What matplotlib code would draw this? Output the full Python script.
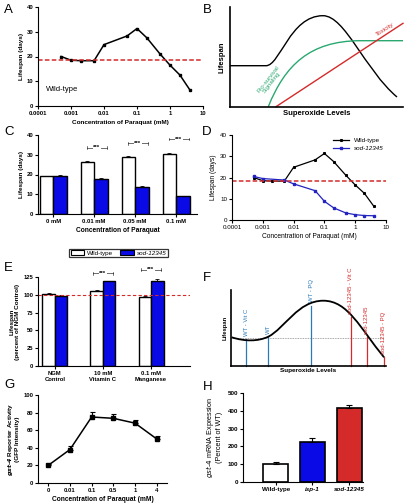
import matplotlib
matplotlib.use("Agg")
import matplotlib.pyplot as plt
from matplotlib.path import Path
from matplotlib.patches import PathPatch, Patch

plt.rcParams["font.family"] = ["Liberation Sans", "DejaVu Sans"]

W, H = 405, 503

BLUE = "#0a0ae6"
DBLUE = "#2323c0"
RED = "#d42a2a"
GREEN = "#2aa870"
FBLUE = "#2a7ab8"

# ---- data ----
pq_conc = [0.0005, 0.001, 0.002, 0.005, 0.01, 0.05, 0.1, 0.2, 0.5, 1, 2, 4]
wt_life = [20.0, 18.5, 18.3, 18.3, 24.8, 28.3, 31.3, 27.5, 21.0, 16.5, 12.5, 6.5]
sod_conc = [0.0005, 0.001, 0.005, 0.01, 0.05, 0.1, 0.2, 0.5, 1, 2, 4]
sod_life = [20.5, 19.5, 18.8, 17.0, 13.8, 8.8, 5.7, 3.3, 2.5, 2.1, 2.0]
wt_control = 18.5

c_groups = ["0 mM", "0.01 mM", "0.05 mM", "0.1 mM"]
c_wt = [19.0, 26.2, 28.8, 30.6]
c_wt_err = [0.4, 0.5, 0.6, 0.5]
c_sod = [19.2, 17.8, 13.6, 8.9]
c_sod_err = [0.4, 0.4, 0.4, 0.4]
c_sig_y = [None, 33.5, 35.8, 38.0]

e_groups = ["NGM\nControl", "10 mM\nVitamin C", "0.1 mM\nManganese"]
e_wt = [101, 106, 97]
e_wt_err = [1.0, 1.2, 1.5]
e_sod = [99, 119, 119]
e_sod_err = [1.0, 1.0, 2.5]
e_sig_y = [None, 130, 135]

g_conc = ["0", "0.01", "0.1", "0.5", "1", "4"]
g_gfp = [20, 38, 75, 73.5, 68, 50]
g_err = [1.8, 4.0, 6.0, 5.0, 3.5, 3.5]

h_strains = ["Wild-type", "isp-1", "sod-12345"]
h_expr = [100, 225, 415]
h_err = [12, 20, 18]
h_colors = ["white", BLUE, RED]

# schematic F: vertical markers (x, top of line on curve, label, colour)
f_marks_x = [246, 268.3, 311, 350.7, 366.7, 384]
f_marks_top = [339.3, 336.7, 305.5, 316.5, 337.3, 357.3]
f_marks_lab = ["WT - Vit C", "WT", "WT - PQ", "sod-12345 - Vit C", "sod-12345", "sod-12345 - PQ"]
f_marks_col = [FBLUE, FBLUE, FBLUE, RED, RED, RED]


def rect(l, t, r, b):
    return [l / W, 1 - b / H, (r - l) / W, (b - t) / H]


def style(ax, lw=0.8, fs=4.2, bold=True):
    for s in ["top", "right"]:
        ax.spines[s].set_visible(False)
    for s in ["left", "bottom"]:
        ax.spines[s].set_linewidth(lw)
    ax.tick_params(length=2, width=lw, labelsize=fs, pad=1.5)
    if bold:
        for t in ax.get_xticklabels() + ax.get_yticklabels():
            t.set_fontweight("bold")


def log_xaxis(ax):
    ax.set_xscale("log")
    ax.set_xlim(1e-4, 10)
    ax.set_xticks([1e-4, 1e-3, 1e-2, 0.1, 1, 10])
    ax.set_xticklabels(["0.0001", "0.001", "0.01", "0.1", "1", "10"])
    ax.minorticks_off()


def sig(ax, x, y, half, tick, fs=4.3):
    kw = dict(color="black", lw=0.4, clip_on=False)
    ax.plot([x - half, x + half], [y, y], **kw)
    ax.plot([x - half, x - half], [y - tick, y + tick], **kw)
    ax.plot([x + half, x + half], [y - tick, y + tick], **kw)
    ax.text(x, y, "***", ha="center", va="center", fontsize=fs, fontweight="bold",
            bbox=dict(facecolor="white", edgecolor="none", pad=0.4), clip_on=False)


def bezier(points, codes_seq):
    return Path(points, [Path.MOVETO] + codes_seq)


fig = plt.figure(figsize=(W / 100, H / 100), dpi=100)

# ---------- A ----------
ax = fig.add_axes(rect(38, 7, 203, 106))
ax.plot(pq_conc, wt_life, color="black", lw=1.1, marker="s", ms=2.0)
ax.axhline(wt_control, color=RED, ls=(0, (3, 1.5)), lw=1.1)
log_xaxis(ax)
ax.set_ylim(0, 40)
ax.set_yticks([0, 10, 20, 30, 40])
ax.set_xlabel("Concentration of Paraquat (mM)", fontsize=4.6, fontweight="bold", labelpad=3)
ax.set_ylabel("Lifespan (days)", fontsize=4.6, fontweight="bold", labelpad=2)
ax.text(0.00018, 6.5, "Wild-type", fontsize=5.5, va="center")
style(ax)

# ---------- B ----------
ax = fig.add_axes(rect(230, 7, 403, 107))
ax.set_xlim(230, 403)
ax.set_ylim(107, 7)
blk = bezier([(230, 65.7), (266, 65.7), (280, 65.7), (290, 15.7), (323, 15.7),
              (345, 15.7), (365, 70), (397, 97)],
             [Path.LINETO] + [Path.CURVE4] * 6)
ax.add_patch(PathPatch(blk, fill=False, edgecolor="black", lw=1.0))
grn = bezier([(268.3, 106.7), (285, 65), (310, 41), (360, 40.7), (403, 40.7)],
             [Path.CURVE4] * 3 + [Path.LINETO])
ax.add_patch(PathPatch(grn, fill=False, edgecolor=GREEN, lw=1.0, clip_on=False))
ax.plot([276, 403], [106.7, 23.3], color=RED, lw=1.0, clip_on=False)
ax.text(385, 29, "Toxicity", color=RED, fontsize=4.5, rotation=33, ha="center", va="center")
ax.text(270, 81, "Pro-survival\nSignaling", color=GREEN, fontsize=4.5, rotation=52,
        ha="center", va="center", linespacing=1.0)
ax.set_xticks([])
ax.set_yticks([])
ax.set_xlabel("Superoxide Levels", fontsize=5.5, fontweight="bold", labelpad=2)
ax.set_ylabel("Lifespan", fontsize=5.5, fontweight="bold", labelpad=3)
for s in ["top", "right"]:
    ax.spines[s].set_visible(False)
for s in ["left", "bottom"]:
    ax.spines[s].set_linewidth(1.2)

# ---------- C ----------
ax = fig.add_axes(rect(38, 135, 197, 214))
bw = 0.33
xs = list(range(len(c_groups)))
ax.bar([x - bw / 2 for x in xs], c_wt, bw, color="white", edgecolor="black", lw=1.0,
       yerr=[[0] * 4, c_wt_err], error_kw=dict(lw=0.6, capsize=1.3, capthick=0.6))
ax.bar([x + bw / 2 for x in xs], c_sod, bw, color=BLUE, edgecolor="black", lw=1.0,
       yerr=[[0] * 4, c_sod_err], error_kw=dict(lw=0.6, capsize=1.3, capthick=0.6))
for x, y in zip(xs, c_sig_y):
    if y is not None:
        sig(ax, x + 0.07, y, 0.24, 0.7)
ax.set_xlim(-0.37, 3.51)
ax.set_ylim(0, 40)
ax.set_yticks([0, 10, 20, 30, 40])
ax.set_xticks(xs)
ax.set_xticklabels(c_groups)
ax.set_xlabel("Concentration of Paraquat", fontsize=4.8, fontweight="bold", labelpad=2)
ax.set_ylabel("Lifespan (days)", fontsize=4.6, fontweight="bold", labelpad=2)
style(ax)
leg = fig.legend([Patch(facecolor="white", edgecolor="black", lw=0.8),
                  Patch(facecolor=BLUE, edgecolor="black", lw=0.8)],
                 ["Wild-type", "sod-12345"], ncol=2, loc="center",
                 bbox_to_anchor=(118.5 / W, 1 - 253 / H), fontsize=4.5, frameon=True,
                 fancybox=False, edgecolor="black", handlelength=2.2, handleheight=0.9,
                 borderpad=0.2, columnspacing=1.0, handletextpad=0.5, borderaxespad=0)
leg.get_frame().set_linewidth(0.9)
leg.get_texts()[1].set_fontstyle("italic")

# ---------- D ----------
ax = fig.add_axes(rect(232, 135, 386, 220))
ax.plot(pq_conc, wt_life, color="black", lw=0.9, marker="s", ms=1.2, label="Wild-type")
ax.plot(sod_conc, sod_life, color=DBLUE, lw=0.9, marker="s", ms=2.0, label="sod-12345")
ax.axhline(wt_control, color=RED, ls=(0, (3, 1.5)), lw=1.1)
log_xaxis(ax)
ax.set_ylim(0, 40)
ax.set_yticks([0, 10, 20, 30, 40])
ax.set_xlabel("Concentration of Paraquat (mM)", fontsize=4.8, labelpad=2)
ax.set_ylabel("Lifespan (days)", fontsize=4.8, labelpad=2)
style(ax, fs=4.5, bold=False)
lg = ax.legend(loc="upper right", bbox_to_anchor=(1.02, 1.03), fontsize=4.5, frameon=False,
               handlelength=2.5, labelspacing=0.4)
lg.get_texts()[1].set_fontstyle("italic")

# ---------- E ----------
ax = fig.add_axes(rect(38, 277, 190, 366))
bw = 0.26
xs = list(range(len(e_groups)))
ax.bar([x - bw / 2 for x in xs], e_wt, bw, color="white", edgecolor="black", lw=1.0,
       yerr=[[0] * 3, e_wt_err], error_kw=dict(lw=0.6, capsize=1.3, capthick=0.6))
ax.bar([x + bw / 2 for x in xs], e_sod, bw, color=BLUE, edgecolor="black", lw=1.0,
       yerr=[[0] * 3, e_sod_err], error_kw=dict(lw=0.6, capsize=1.3, capthick=0.6))
ax.axhline(100, color=RED, ls=(0, (3, 2)), lw=0.8)
for x, y in zip(xs, e_sig_y):
    if y is not None:
        sig(ax, x, y, 0.2, 2.2)
ax.set_xlim(-0.35, 2.81)
ax.set_ylim(0, 125)
ax.set_yticks([0, 25, 50, 75, 100, 125])
ax.set_xticks(xs)
ax.set_xticklabels(e_groups, linespacing=1.3)
ax.set_ylabel("Lifespan\n(percent of NGM Control)", fontsize=4.6, fontweight="bold",
              labelpad=2, linespacing=1.1)
style(ax)

# ---------- F ----------
ax = fig.add_axes(rect(230.7, 290, 386, 365.7))
ax.set_xlim(230.7, 386)
ax.set_ylim(365.7, 290)
crv = bezier([(231.7, 337.3), (245, 341.5), (258, 341.5), (268.3, 336.7),
              (285, 328), (298, 300.7), (323.3, 300.7),
              (348, 300.7), (360, 328), (384, 357.3)],
             [Path.CURVE4] * 9)
ax.add_patch(PathPatch(crv, fill=False, edgecolor="black", lw=1.3, zorder=3))
ax.plot([231, 384], [338.3, 338.3], color="#888888", ls=(0, (1, 1)), lw=0.6)
for x, top, lab, col in zip(f_marks_x, f_marks_top, f_marks_lab, f_marks_col):
    ax.plot([x, x], [365.7, top], color=col, lw=0.9, clip_on=False)
    ax.text(x, top - 3, lab, color=col, fontsize=4.3, rotation=90, ha="center", va="bottom")
ax.set_xticks([])
ax.set_yticks([])
ax.set_xlabel("Superoxide Levels", fontsize=4.6, fontweight="bold", labelpad=2)
ax.set_ylabel("Lifespan", fontsize=4.2, fontweight="bold", labelpad=2)
for s in ["top", "right"]:
    ax.spines[s].set_visible(False)
for s in ["left", "bottom"]:
    ax.spines[s].set_linewidth(1.2)

# ---------- G ----------
ax = fig.add_axes(rect(38, 395, 167, 483))
xs = list(range(len(g_conc)))
ax.errorbar(xs, g_gfp, yerr=[[0] * 6, g_err], color="black", lw=1.1, marker="s", ms=2.2,
            capsize=1.8, elinewidth=0.8, capthick=0.8)
ax.set_xlim(-0.47, 5.47)
ax.set_ylim(0, 100)
ax.set_yticks([0, 20, 40, 60, 80, 100])
ax.set_xticks(xs)
ax.set_xticklabels(g_conc)
ax.set_xlabel("Concentration of Paraquat (mM)", fontsize=4.8, fontweight="bold", labelpad=2)
ax.set_ylabel("$\\mathbfit{gst}$-$\\mathbfit{4}$ Reporter Activity\n(GFP Intensity)",
              fontsize=4.6, fontweight="bold", labelpad=2, linespacing=1.1)
style(ax)

# ---------- H ----------
ax = fig.add_axes(rect(243, 393, 363, 482))
xs = list(range(len(h_strains)))
ax.bar(xs, h_expr, 0.68, color=h_colors, edgecolor="black", lw=1.2,
       yerr=[[0] * 3, h_err], error_kw=dict(lw=0.8, capsize=2.2, capthick=0.8))
ax.set_xlim(-0.89, 2.38)
ax.set_ylim(0, 500)
ax.set_yticks([0, 100, 200, 300, 400, 500])
ax.set_xticks(xs)
ax.set_xticklabels(h_strains)
ax.set_ylabel("$\\mathit{gst}$-$\\mathit{4}$ mRNA Expression\n(Percent of WT)",
              fontsize=5.2, labelpad=3, linespacing=1.1)
style(ax, fs=4.5)
for t in ax.get_xticklabels()[1:]:
    t.set_fontstyle("italic")

# panel letters
for lab, x, y in [("A", 4, 4), ("B", 203, 4), ("C", 4, 126), ("D", 202, 126),
                  ("E", 4, 262), ("F", 203, 272), ("G", 4, 379), ("H", 203, 381)]:
    fig.text(x / W, 1 - y / H, lab, fontsize=9.5, va="top", ha="left")

fig.savefig("out.png", dpi=100)
